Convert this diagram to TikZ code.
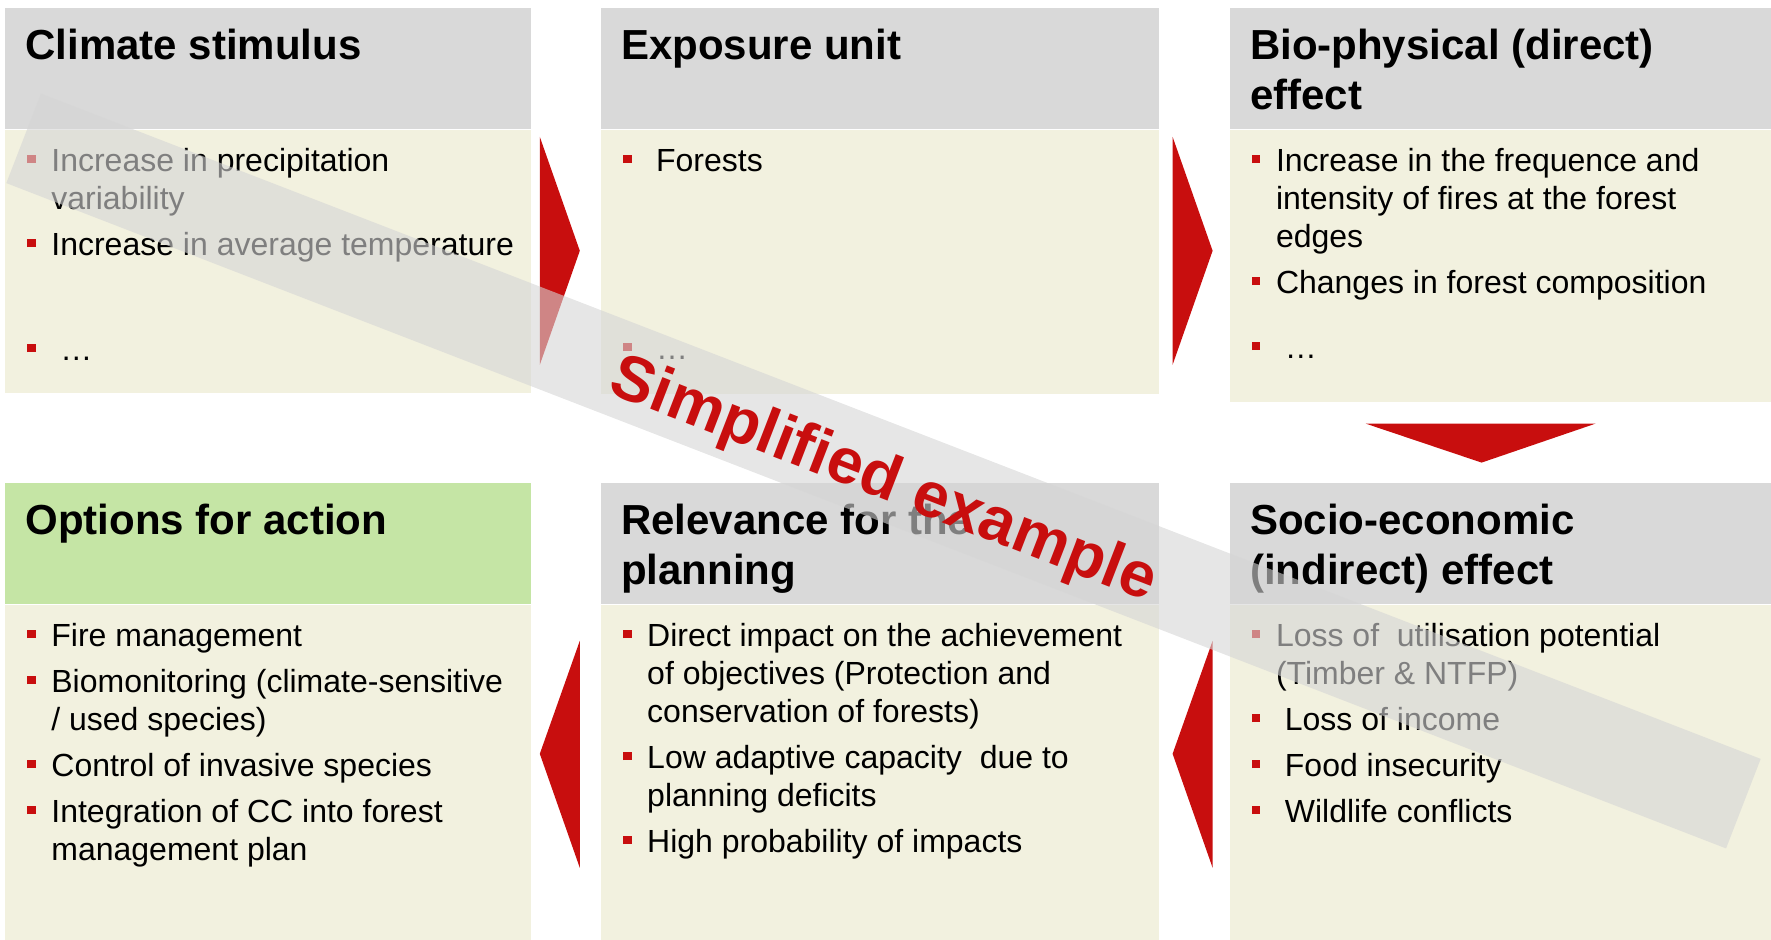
\documentclass[tikz,border=0pt]{standalone}
\usepackage{fontspec}
\setmainfont{Liberation Sans}
\usepackage{xcolor}
\usetikzlibrary{positioning,calc}
\definecolor{hdrgray}{RGB}{217,217,217}
\definecolor{bodybeige}{RGB}{242,241,223}
\definecolor{hdrgreen}{RGB}{197,229,165}
\definecolor{mred}{RGB}{200,14,14}
\definecolor{bandgray}{RGB}{213,213,213}
\newcommand{\bul}{\strut\makebox[12pt][l]{\textcolor{mred}{\rule[4pt]{4.2pt}{4.2pt}}}}
\newcommand{\ind}{\hspace*{12pt}}

\begin{document}
\begin{tikzpicture}[x=0.5pt,y=-0.5pt,
		hdr/.style={fill=hdrgray,inner sep=0pt,minimum height=60.5pt,anchor=north west},
		bdy/.style={fill=bodybeige,inner sep=0pt},
		ttl/.style={anchor=north west,inner sep=0pt,align=left,font=\fontsize{21}{25}\selectfont\bfseries},
		lst/.style={anchor=north west,inner sep=0pt,align=left,font=\fontsize{16}{19}\selectfont},
		chev/.style={fill=mred}]
		\useasboundingbox (0,0) rectangle (1771,940);
		
		\node[hdr,minimum width=263pt] (climh) at (5,8) {};
		\node[bdy,minimum width=263pt,minimum height=131.5pt,below=0pt of climh] (climb) {};
		\node[hdr,minimum width=279pt,right=34.5pt of climh] (exph) {};
		\node[bdy,minimum width=279pt,minimum height=132pt,below=0pt of exph] (expb) {};
		\node[hdr,minimum width=271.5pt,right=35pt of exph] (bioh) {};
		\node[bdy,minimum width=271.5pt,minimum height=136pt,below=0pt of bioh] (biob) {};
		
		\node[hdr,fill=hdrgreen,minimum width=263pt] (opth) at (5,483) {};
		\node[bdy,minimum width=263pt,minimum height=168pt,below=0pt of opth] (optb) {};
		\node[hdr,minimum width=279pt,right=34.5pt of opth] (relh) {};
		\node[bdy,minimum width=279pt,minimum height=168pt,below=0pt of relh] (relb) {};
		\node[hdr,minimum width=271.5pt,right=35pt of relh] (soch) {};
		\node[bdy,minimum width=271.5pt,minimum height=168pt,below=0pt of soch] (socb) {};
		
		\node[ttl] (climt) at ($(climh.north west)+(20,21)$) {Climate stimulus};
		\node[ttl] (expt) at ($(exph.north west)+(20,21)$) {Exposure unit};
		\node[ttl] (biot) at ($(bioh.north west)+(20,21)$) {Bio-physical (direct)\\effect};
		\node[ttl] (optt) at ($(opth.north west)+(20,21)$) {Options for action};
		\node[ttl] (relt) at ($(relh.north west)+(20,21)$) {Relevance for the\\planning};
		\node[ttl] (soct) at ($(soch.north west)+(20,21)$) {Socio-economic\\(indirect) effect};
		
		\node[lst] (climl) at ($(climb.north west)+(22,14.4)$) {\bul Increase in precipitation\\ \ind variability\\[4pt] \bul Increase in average temperature\\[33.5pt] \bul\ …};
		\node[lst] (expl) at ($(expb.north west)+(22,14.4)$) {\bul\ Forests\\[75pt] \bul\ …};
		\node[lst] (biol) at ($(biob.north west)+(22,14.4)$) {\bul Increase in the frequence and\\ \ind intensity of fires at the forest\\ \ind edges\\[4pt] \bul Changes in forest composition\\[13.5pt] \bul\ …};
		\node[lst] (optl) at ($(optb.north west)+(22,14.4)$) {\bul Fire management\\[4pt] \bul Biomonitoring (climate-sensitive\\ \ind / used species)\\[4pt] \bul Control of invasive species\\[4pt] \bul Integration of CC into forest\\ \ind management plan};
		\node[lst] (rell) at ($(relb.north west)+(22,14.4)$) {\bul Direct impact on the achievement\\ \ind of objectives (Protection and\\ \ind conservation of forests)\\[4pt] \bul Low adaptive capacity\ \ due to\\ \ind planning deficits\\[4pt] \bul High probability of impacts};
		\node[lst] (socl) at ($(socb.north west)+(22,14.4)$) {\bul Loss of\ \ utilisation potential\\ \ind (Timber \& NTFP)\\[4pt] \bul\ Loss of income\\[4pt] \bul\ Food insecurity\\[4pt] \bul\ Wildlife conflicts};
		
		\fill[chev] ($(climb.north east)+(8,7)$) -- ($(climb.north east)+(48,121)$) -- ($(climb.north east)+(8,235)$) -- cycle;
		\fill[chev] ($(expb.north east)+(13,7)$) -- ($(expb.north east)+(53,121)$) -- ($(expb.north east)+(13,235)$) -- cycle;
		\fill[chev] ($(biob.south west)+(136,21)$) -- ($(biob.south west)+(366,21)$) -- ($(biob.south west)+(252,60)$) -- cycle;
		\fill[chev] ($(optb.north east)+(48,36)$) -- ($(optb.north east)+(8,149)$) -- ($(optb.north east)+(48,263)$) -- cycle;
		\fill[chev] ($(relb.north east)+(53,36)$) -- ($(relb.north east)+(13,149)$) -- ($(relb.north east)+(53,263)$) -- cycle;
		
		\node[fill=bandgray,fill opacity=0.6,rotate=-21.15,minimum width=922pt,minimum height=48pt,inner sep=0pt] (band) at (883.5,471) {};
		\node[text=mred,font=\fontsize{32}{38}\selectfont\bfseries,rotate=-21.15,anchor=base,inner sep=0pt] (wm) at (877,497) {Simplified example};
	\end{tikzpicture}
\end{document}
